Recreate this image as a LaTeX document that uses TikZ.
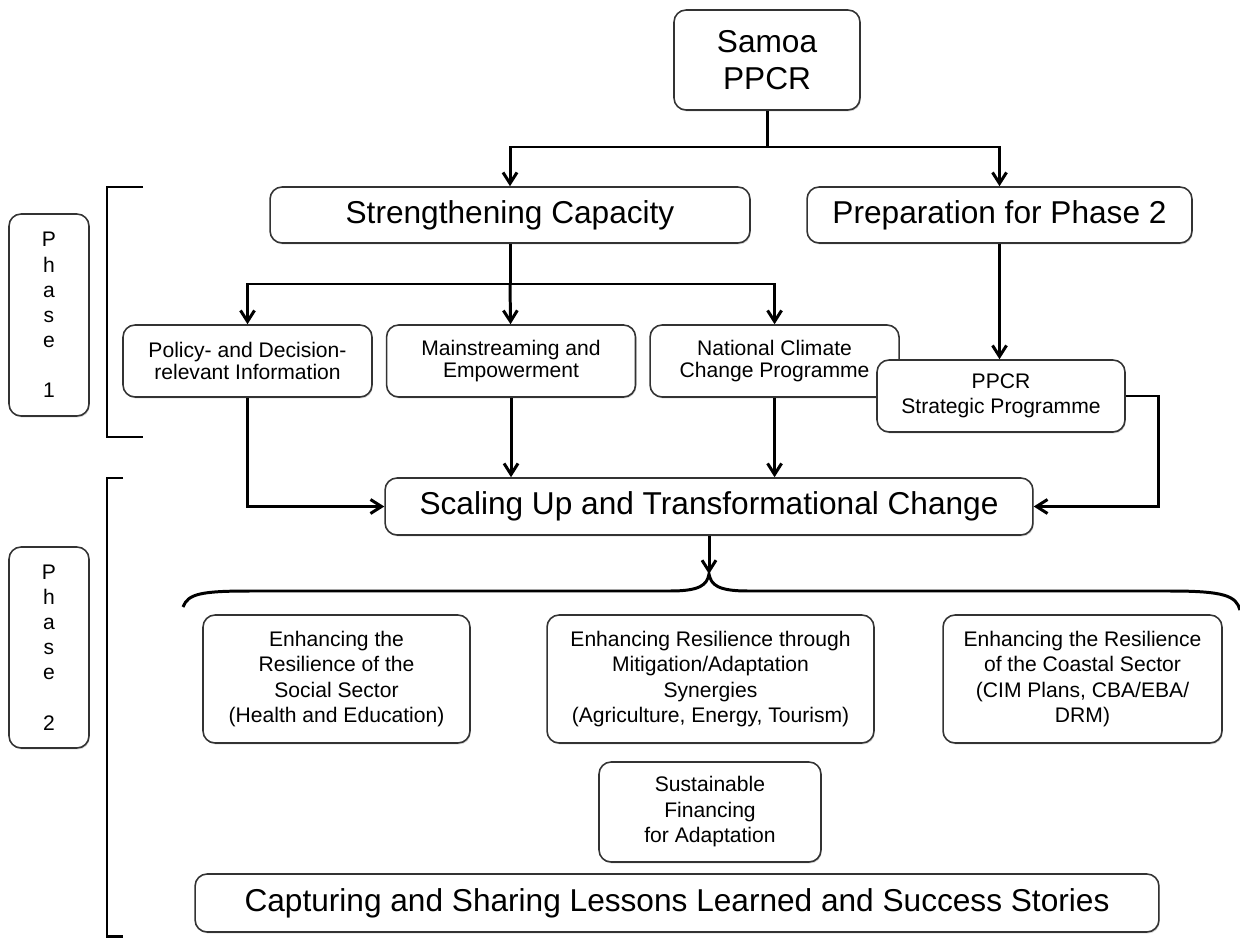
\documentclass[tikz,border=0pt]{standalone}
\usepackage{fontspec}
\setmainfont{Liberation Sans}
\usetikzlibrary{arrows.meta,positioning,shadows}

\begin{document}
\begin{tikzpicture}[
  x=0.02cm, y=-0.02cm,
  box/.style={draw=black!80, line width=0.9pt, fill=white, align=center, rounded corners=2.4mm, inner sep=2pt,
    drop shadow={shadow xshift=0.5pt, shadow yshift=-0.8pt, fill=black!30, opacity=0.6}},
  big/.style={box, font=\fontsize{18}{21}\selectfont},
  mid/.style={box, font=\fontsize{12}{13}\selectfont, minimum width=4.98cm, minimum height=1.44cm},
  sect/.style={box, font=\fontsize{12}{14.5}\selectfont, minimum height=2.56cm},
  phase/.style={box, font=\fontsize{12}{14.3}\selectfont, minimum width=1.6cm},
  line/.style={line width=1.7pt},
  arr/.style={line, -{Straight Barb[length=2.2mm,width=2.8mm]}},
  brk/.style={line width=1.7pt}
]
\useasboundingbox (0,0) rectangle (1240,939);

% top of the tree
\node[big, minimum width=3.72cm, minimum height=2cm] (samoa) at (767,60) {Samoa\\PPCR};
\node[big, minimum width=9.6cm, minimum height=1.12cm] (cap) at (510,215) {Strengthening Capacity};
\node[big, minimum width=7.7cm, minimum height=1.12cm] (prep) at (999.5,215) {Preparation for Phase 2};

% phase 1 outputs
\node[mid] (pol) at (247.5,361) {Policy- and Decision-\\relevant Information};
\node[mid, right=2.6mm of pol] (main) {Mainstreaming and\\Empowerment};
\node[mid, right=2.6mm of main] (ncc) {National Climate\\Change Programme};
\node[mid, minimum width=4.96cm, font=\fontsize{12}{14}\selectfont] (ppcr) at (1001,396) {PPCR\\Strategic Programme};

% phase 2
\node[big, minimum width=12.96cm, minimum height=1.14cm] (scale) at (709,506.5) {Scaling Up and Transformational Change};
\node[sect, minimum width=5.34cm] (soc) at (336.5,679) {Enhancing the\\Resilience of the\\Social Sector\\(Health and Education)};
\node[sect, minimum width=6.54cm] (syn) at (710.5,679) {Enhancing Resilience through\\Mitigation/Adaptation\\Synergies\\(Agriculture, Energy, Tourism)};
\node[sect, minimum width=5.58cm] (coast) at (1082.5,679) {Enhancing the Resilience\\of the Coastal Sector\\(CIM Plans, CBA/EBA/\\DRM)};
\node[sect, minimum width=4.44cm, minimum height=2cm] (fin) at (710,812) {Sustainable\\Financing\\for Adaptation};
\node[big, minimum width=19.28cm, minimum height=1.16cm] (less) at (677,903) {Capturing and Sharing Lessons Learned and Success Stories};

% phase labels
\node[phase, minimum height=4.04cm] (ph1) at (49,315) {P\\h\\a\\s\\e\\[14.3pt]1};
\node[phase, minimum height=4.02cm] (ph2) at (49,647.5) {P\\h\\a\\s\\e\\[14.3pt]2};

\coordinate (split) at (767,147);
\coordinate (fork) at (510,284);
\coordinate (tip) at (709,574);

\draw[line] (samoa) -- (split);
\draw[arr] (split) -| (cap);
\draw[arr] (split) -| (prep);
\draw[line] (cap) -- (fork);
\draw[arr] (fork) -| (pol);
\draw[arr] (fork) -- (main);
\draw[arr] (fork) -| (ncc);
\draw[arr] (prep) -- (prep |- ppcr.north);
\draw[arr] (pol) |- (scale);
\draw[arr] (main) -- (main |- scale.north);
\draw[arr] (ncc) -- (ncc |- scale.north);
\draw[arr] (ppcr.east) -- ++(33,0) |- (scale);
\draw[arr] (scale) -- (tip);

% brace and phase brackets
\draw[brk] (183,607) .. controls (188,594) and (200,591) .. (250,591) -- (670,591)
  .. controls (700,591) and (707,585) .. (tip)
  .. controls (711,585) and (718,591) .. (748,591) -- (1170,591)
  .. controls (1225,591) and (1236,596) .. (1240,610);
\draw[brk] (143,187) -- (107,187) -- (107,437) -- (143,437);
\draw[brk] (123,478) -- (107,478) -- (107,936) -- (123,936);
\end{tikzpicture}
\end{document}
